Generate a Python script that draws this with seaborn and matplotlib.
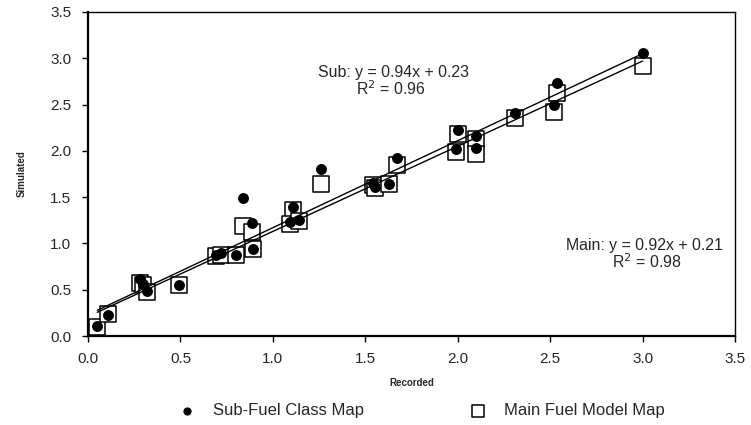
import numpy as np
import pandas as pd
import matplotlib
matplotlib.use("Agg")
import matplotlib.pyplot as plt
import seaborn as sns

# Recorded vs simulated values for the two fuel maps
recorded = [0.05, 0.11, 0.28, 0.30, 0.32, 0.49, 0.69, 0.72, 0.80, 0.89,
            0.84, 0.885, 1.11, 1.09, 1.14, 1.26, 1.54, 1.55, 1.63, 1.67,
            2.00, 1.99, 2.10, 2.10, 2.31, 2.535, 2.52, 3.00]
sub_simulated = [0.11, 0.23, 0.62, 0.56, 0.49, 0.55, 0.88, 0.90, 0.88, 0.94,
                 1.49, 1.22, 1.39, 1.23, 1.25, 1.80, 1.65, 1.61, 1.64, 1.92,
                 2.23, 2.02, 2.16, 2.03, 2.41, 2.73, 2.49, 3.06]
main_simulated = [0.10, 0.24, 0.57, 0.55, 0.47, 0.55, 0.86, 0.88, 0.88, 0.94,
                  1.19, 1.12, 1.36, 1.21, 1.24, 1.64, 1.63, 1.60, 1.64, 1.85,
                  2.18, 1.99, 2.13, 1.97, 2.35, 2.63, 2.42, 2.92]

# Linear trend coefficients (slope, intercept, R^2)
sub_fit = (0.94, 0.23, 0.96)
main_fit = (0.92, 0.21, 0.98)

series_labels = ["Sub-Fuel Class Map", "Main Fuel Model Map"]
axis_ticks = [0.0, 0.5, 1.0, 1.5, 2.0, 2.5, 3.0, 3.5]

sns.set_style("ticks")
plt.rcParams["font.family"] = ["Liberation Sans", "DejaVu Sans"]

fig = plt.figure(figsize=(7.51, 4.25), dpi=100)
ax = fig.add_axes([0.1172, 0.2094, 0.8615, 0.7624])

sub_df = pd.DataFrame({"Recorded": recorded, "Simulated": sub_simulated})
main_df = pd.DataFrame({"Recorded": recorded, "Simulated": main_simulated})

sns.scatterplot(data=main_df, x="Recorded", y="Simulated", ax=ax, marker="s",
                s=140, facecolor="white", edgecolor="black", linewidth=1.1,
                label=series_labels[1], zorder=2)
sns.scatterplot(data=sub_df, x="Recorded", y="Simulated", ax=ax, marker="o",
                s=62, color="black", edgecolor="black", linewidth=0,
                label=series_labels[0], zorder=3)

# Trend lines across the range of recorded values
xs = np.array([min(recorded), max(recorded)])
for slope, intercept, _ in (sub_fit, main_fit):
    ax.plot(xs, slope * xs + intercept, color="black", lw=1.0, zorder=4)

note_size = 11.4
ax.text(1.655, 2.85, f"Sub: y = {sub_fit[0]:.2f}x + {sub_fit[1]:.2f}",
        fontsize=note_size, ha="center", va="center")
ax.text(1.64, 2.67, f"R$^2$ = {sub_fit[2]:.2f}", fontsize=note_size,
        ha="center", va="center")
ax.text(3.01, 0.98, f"Main: y = {main_fit[0]:.2f}x + {main_fit[1]:.2f}",
        fontsize=note_size, ha="center", va="center")
ax.text(3.02, 0.80, f"R$^2$ = {main_fit[2]:.2f}", fontsize=note_size,
        ha="center", va="center")

ax.set_xlim(0, 3.5)
ax.set_ylim(0, 3.5)
ax.set_xticks(axis_ticks)
ax.set_yticks(axis_ticks)
ax.set_xticklabels([f"{t:.1f}" for t in axis_ticks])
ax.set_yticklabels([f"{t:.1f}" for t in axis_ticks])
ax.tick_params(axis="both", labelsize=11, length=4, width=1, color="black",
               direction="out")
ax.tick_params(axis="x", pad=7.5)
ax.tick_params(axis="y", pad=8)

ax.set_xlabel("Recorded", fontsize=7, fontweight="bold", labelpad=9)
ax.set_ylabel("Simulated", fontsize=7, fontweight="bold", labelpad=17)

for side in ("left", "bottom"):
    ax.spines[side].set_linewidth(1.6)
for side in ("top", "right"):
    ax.spines[side].set_visible(True)
    ax.spines[side].set_linewidth(1.0)
for sp in ax.spines.values():
    sp.set_color("black")

handles, labels = ax.get_legend_handles_labels()
order = [labels.index(series_labels[0]), labels.index(series_labels[1])]
ax.get_legend().remove()
fig.legend([handles[i] for i in order], [labels[i] for i in order],
           loc="center", bbox_to_anchor=(0.5557, 0.033), ncol=2,
           frameon=False, fontsize=12, columnspacing=5.85, handletextpad=0.55,
           handlelength=2.0, markerscale=0.75)

fig.savefig("out.png", dpi=100, facecolor="white")
